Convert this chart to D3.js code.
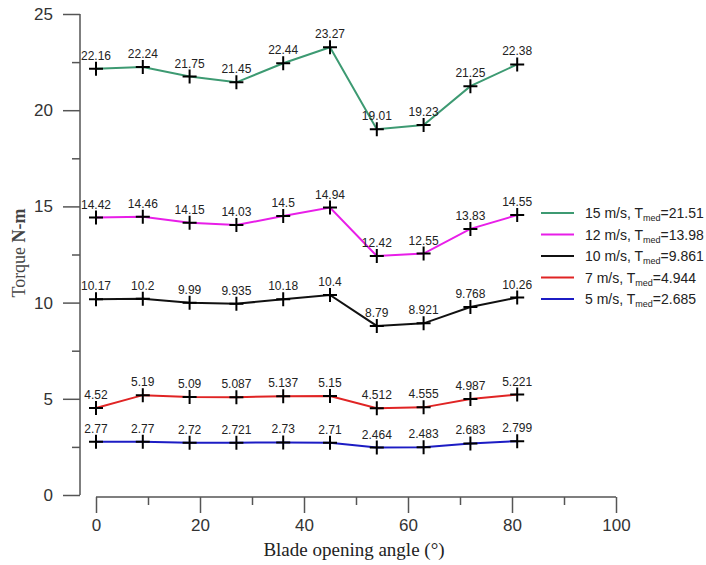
<!DOCTYPE html>
<html>
<head>
<meta charset="utf-8">
<script src="https://cdn.jsdelivr.net/npm/d3@7"></script>
<style>
  html, body { margin: 0; padding: 0; background: #fff; }
  svg { display: block; }
</style>
</head>
<body>
<svg id="chart" width="706" height="565"></svg>
<script>
// Blade opening angles (degrees)
const angles = [0, 9, 18, 27, 36, 45, 54, 63, 72, 81];

// Torque (N-m) per wind speed
const torque15 = [22.16, 22.24, 21.75, 21.45, 22.44, 23.27, 19.01, 19.23, 21.25, 22.38];
const torque12 = [14.42, 14.46, 14.15, 14.03, 14.5, 14.94, 12.42, 12.55, 13.83, 14.55];
const torque10 = [10.17, 10.2, 9.99, 9.935, 10.18, 10.4, 8.79, 8.921, 9.768, 10.26];
const torque7  = [4.52, 5.19, 5.09, 5.087, 5.137, 5.15, 4.512, 4.555, 4.987, 5.221];
const torque5  = [2.77, 2.77, 2.72, 2.721, 2.73, 2.71, 2.464, 2.483, 2.683, 2.799];

// Labels shown as text next to each point
const labels15 = ["22.16", "22.24", "21.75", "21.45", "22.44", "23.27", "19.01", "19.23", "21.25", "22.38"];
const labels12 = ["14.42", "14.46", "14.15", "14.03", "14.5", "14.94", "12.42", "12.55", "13.83", "14.55"];
const labels10 = ["10.17", "10.2", "9.99", "9.935", "10.18", "10.4", "8.79", "8.921", "9.768", "10.26"];
const labels7  = ["4.52", "5.19", "5.09", "5.087", "5.137", "5.15", "4.512", "4.555", "4.987", "5.221"];
const labels5  = ["2.77", "2.77", "2.72", "2.721", "2.73", "2.71", "2.464", "2.483", "2.683", "2.799"];

const speeds = ["15 m/s", "12 m/s", "10 m/s", "7 m/s", "5 m/s"];
const medians = ["21.51", "13.98", "9.861", "4.944", "2.685"];
const colors = ["#3d9a72", "#e81ee8", "#111111", "#e02424", "#1c1cc4"];

const xTicks = [0, 20, 40, 60, 80, 100];
const yTicks = [0, 5, 10, 15, 20, 25];

const series = [
  { values: torque15, labels: labels15 },
  { values: torque12, labels: labels12 },
  { values: torque10, labels: labels10 },
  { values: torque7,  labels: labels7 },
  { values: torque5,  labels: labels5 }
];

const svg = d3.select("#chart");

const x = d3.scaleLinear().domain([0, 100]).range([96, 616]);
const y = d3.scaleLinear().domain([0, 25]).range([495, 14]);

const axisColor = "#555";
const textColor = "#333";

// Y axis (offset to the left of the data area)
const yAxisG = svg.append("g").attr("transform", "translate(80,0)");
yAxisG.call(d3.axisLeft(y).tickValues(yTicks).tickSize(17).tickPadding(10))
  .call(g => g.select(".domain").attr("stroke", axisColor).attr("stroke-width", 1.5).attr("d", `M0,${y(0)}V${y(25)}`))
  .call(g => g.selectAll(".tick line").attr("stroke", axisColor).attr("stroke-width", 1.5))
  .call(g => g.selectAll(".tick text").attr("fill", textColor).style("font", "17px Arial, 'Liberation Sans', sans-serif"));
yAxisG.append("g").call(d3.axisLeft(y).tickValues([2.5, 7.5, 12.5, 17.5, 22.5]).tickSize(8).tickFormat(""))
  .call(g => g.select(".domain").remove())
  .call(g => g.selectAll(".tick line").attr("stroke", axisColor).attr("stroke-width", 1.5));

// X axis (offset below the data area)
const xAxisG = svg.append("g").attr("transform", "translate(0,497)");
xAxisG.call(d3.axisBottom(x).tickValues(xTicks).tickSize(16).tickPadding(6))
  .call(g => g.select(".domain").attr("stroke", axisColor).attr("stroke-width", 1.5).attr("d", `M${x(0)},0H${x(100)}`))
  .call(g => g.selectAll(".tick line").attr("stroke", axisColor).attr("stroke-width", 1.5))
  .call(g => g.selectAll(".tick text").attr("fill", textColor).style("font", "17px Arial, 'Liberation Sans', sans-serif"));
xAxisG.append("g").call(d3.axisBottom(x).tickValues([10, 30, 50, 70, 90]).tickSize(8).tickFormat(""))
  .call(g => g.select(".domain").remove())
  .call(g => g.selectAll(".tick line").attr("stroke", axisColor).attr("stroke-width", 1.5));

// Axis titles
svg.append("text")
  .attr("x", 354).attr("y", 556)
  .attr("text-anchor", "middle")
  .attr("fill", "#222")
  .style("font", "19px 'Liberation Serif', 'Times New Roman', serif")
  .text("Blade opening angle (°)");

const yTitle = svg.append("text")
  .attr("transform", "translate(25,253) rotate(-90)")
  .attr("text-anchor", "middle")
  .attr("fill", "#444")
  .style("font", "18px 'Liberation Serif', 'Times New Roman', serif");
yTitle.append("tspan").text("Torque ");
yTitle.append("tspan").style("font-weight", "bold").text("N-m");

// Lines, markers and value labels
const line = d3.line().x((d, i) => x(angles[i])).y(d => y(d));

series.forEach((s, k) => {
  const g = svg.append("g");
  g.append("path")
    .datum(s.values)
    .attr("d", line)
    .attr("fill", "none")
    .attr("stroke", colors[k])
    .attr("stroke-width", 2);

  g.selectAll("path.mark")
    .data(s.values)
    .join("path")
    .attr("class", "mark")
    .attr("d", (d, i) => {
      const cx = x(angles[i]), cy = y(d), r = 7;
      return `M${cx - r},${cy}H${cx + r}M${cx},${cy - r}V${cy + r}`;
    })
    .attr("stroke", "#000")
    .attr("stroke-width", 2);

  g.selectAll("text.val")
    .data(s.values)
    .join("text")
    .attr("class", "val")
    .attr("x", (d, i) => x(angles[i]))
    .attr("y", d => y(d) - 9)
    .attr("text-anchor", "middle")
    .attr("fill", "#222")
    .style("font", "12px Arial, 'Liberation Sans', sans-serif")
    .text((d, i) => s.labels[i]);
});

// Legend
const legend = svg.append("g");
speeds.forEach((sp, k) => {
  const ly = 213 + k * 21.5;
  legend.append("line")
    .attr("x1", 541).attr("x2", 574)
    .attr("y1", ly).attr("y2", ly)
    .attr("stroke", colors[k]).attr("stroke-width", 2);
  const t = legend.append("text")
    .attr("x", 585).attr("y", ly + 5)
    .attr("fill", "#222")
    .style("font", "14px Arial, 'Liberation Sans', sans-serif");
  t.append("tspan").text(sp + ", T");
  t.append("tspan").attr("dy", 3).style("font-size", "9px").text("med");
  t.append("tspan").attr("dy", -3).text("=" + medians[k]);
});
</script>
</body>
</html>
